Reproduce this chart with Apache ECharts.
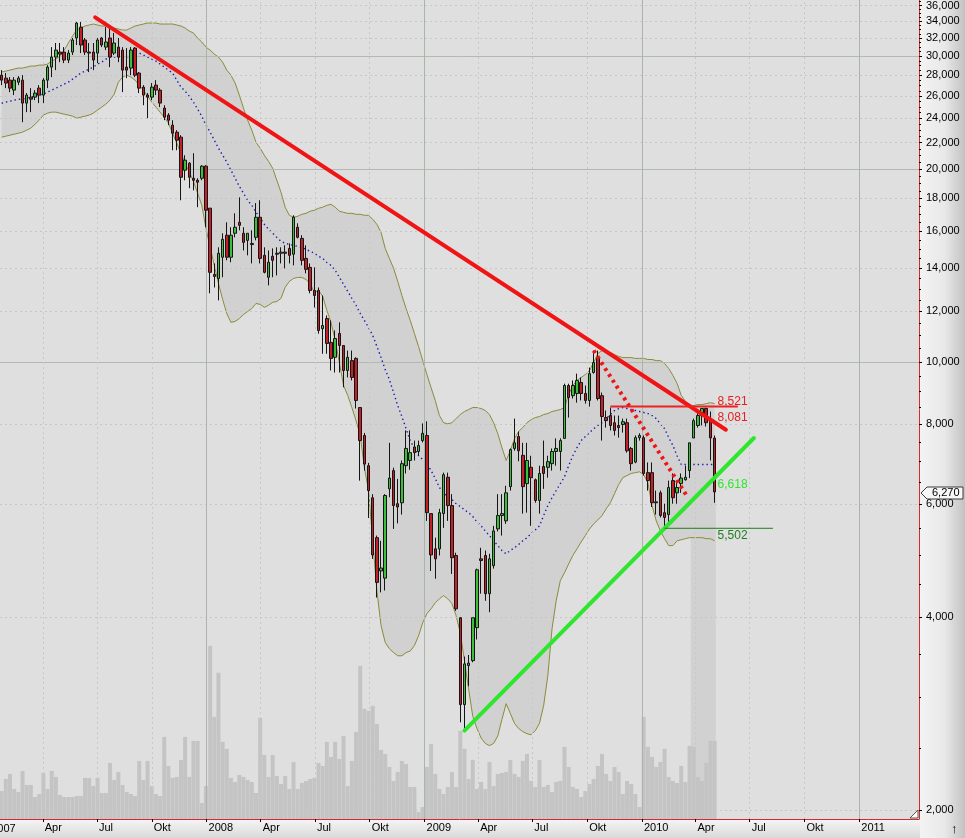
<!DOCTYPE html>
<html>
<head>
<meta charset="utf-8">
<script src="https://cdn.jsdelivr.net/npm/echarts@6.0.0/dist/echarts.min.js"></script>
<style>
html,body{margin:0;padding:0;background:#ffffff;overflow:hidden;}
#chart{width:965px;height:838px;}
</style>
</head>
<body>
<div id="chart"></div>
<script>
// ---------------- DATA (weekly bars) ----------------
const firstWeek = '2007-01-22';

const open = [28030,27730,27530,26560,27330,27530,25350,25900,25900,26750,
26090,27530,28850,29910,30450,30450,29590,30450,32030,33310,
31800,30450,30450,30340,32030,31000,32030,30340,31000,30670,
28850,28750,30890,28240,26850,26090,25900,27040,26560,24900,
24280,23420,22830,22430,19920,20430,19350,19210,19350,20210,
17380,13700,13500,14570,15770,14570,15880,16520,15880,15480,
15310,15650,16820,14670,13560,14620,14780,14780,14840,15040,
14730,16230,15590,14510,14050,12930,12930,11270,11690,10730,
10170,11080,10610,9700,10050,10130,8490,7680,6890,6140,
5320,4720,4600,6340,6770,6010,6030,6890,7020,7370,
7250,7540,7680,5800,5110,5110,5800,6610,5970,4990,
3990,2920,3360,3420,3850,4930,4990,4350,4810,5490,
5760,5650,6390,7330,7650,7150,6460,6850,6550,6080,
6870,6850,6940,7250,7250,7600,9190,8860,8930,9290,
8930,8710,9630,10170,8860,8190,8250,8040,7960,7990,
8040,7330,6980,7620,7620,6720,6720,6050,6250,5820,
5780,6530,6250,6460,6550,6770,7610,7960,8250,8460,
8160,7610];

const close = [27530,27240,26750,27530,27730,25350,26090,25710,26280,26090,
27530,28850,29910,30670,30230,29590,30340,31800,33800,31230,
30450,30340,29590,31800,31230,31570,29910,31460,29910,28540,
28540,30670,28030,26750,26090,25900,26850,26560,25350,24100,
23840,22750,22190,19420,20650,19420,19210,19080,20210,17250,
13800,13600,14780,15540,14570,15770,16230,16340,15370,15880,
15250,16820,14510,13800,14310,14410,14730,14840,14780,14670,
16820,15650,14410,13950,12930,12700,11200,11400,10690,10130,
10880,10610,9700,10170,9460,8710,7540,6930,6300,5000,
4530,4770,6190,6590,5970,5940,6940,7330,7220,7220,
7410,7740,5820,5000,4930,5820,6670,5970,4950,4120,
2920,3380,3390,3990,4740,4900,4350,4930,5450,5760,
5800,6250,7300,7480,7270,6390,7020,6600,6080,6700,
6700,6990,7250,7330,7540,9190,8800,9190,9360,8930,
8710,9590,9980,8770,8220,8100,7960,7820,7900,8070,
7270,6940,7620,7680,6700,6530,6030,6030,5760,5720,
6370,6140,6370,6590,6610,7480,8100,8250,8460,8040,
7610,6270];

const low = [27040,26750,26370,26090,27040,23670,24540,24540,25620,25350,
25350,26750,27830,28540,29370,29270,29270,30130,31230,30340,
30130,28340,28540,29270,31000,30670,28850,30130,29370,26370,
27730,28030,27830,26280,25160,24010,25620,26090,24990,23840,
23420,21400,21400,17880,19210,18670,18530,17440,19210,16230,
12800,13070,12480,13560,14410,14310,15650,16050,14930,14670,
14250,15480,14250,13750,13170,13560,13650,14250,14000,14250,
14150,15590,14150,13750,12800,12160,11070,10300,10300,9700,
9630,9630,9130,9460,9360,8460,6530,6770,5710,4930,
4290,4370,4400,6150,5490,5600,5780,6700,6790,7020,
7140,7490,5650,4720,4590,4990,5510,5650,4670,4090,
2740,2660,3120,3400,3690,4350,4240,4070,4760,5440,
5360,5590,6300,7270,7000,5800,5820,5550,6030,5800,
6340,6600,6770,6890,6770,7600,8190,8770,8640,8710,
8610,8520,9590,8710,7540,7900,7820,7680,7620,7760,
7220,6770,6950,7540,6650,6300,5940,5780,5720,5510,
5610,6010,6010,6250,6530,6590,7610,7900,7960,7930,
7020,6030];

const high = [28540,28240,27830,27830,27930,28030,26280,26750,26560,27040,
27730,29060,31000,31460,31460,31000,30670,32030,33920,33920,
32030,31460,31460,32030,32140,33310,33200,32610,32030,31000,
30890,31000,31000,28340,27040,26280,27240,27530,26750,25160,
24450,23840,23000,22590,21020,20500,21170,19350,20280,20280,
17380,14250,15100,15880,16520,16230,17060,18070,16230,15880,
16050,17700,17880,15100,14930,15040,15100,15100,15210,15310,
16940,16460,15770,15210,14250,14050,13070,12700,11820,11610,
11200,11530,10610,10420,10420,10170,8490,7750,6960,6220,
5360,5260,6220,7480,6840,6570,7020,7820,7820,7540,
7540,8020,8080,5800,5320,5900,6720,6720,6220,5040,
4000,3470,3490,3990,4760,5130,5080,5020,5550,6220,
6220,6410,7330,8160,7790,7480,7480,7140,6580,6890,
7540,7140,7330,7600,7600,9250,9250,9360,9590,9460,
9190,9800,10420,10420,8960,8400,8490,8250,8250,8160,
8160,7370,7680,7740,7680,6970,6970,6300,6300,6010,
6530,6700,6530,6700,6890,7480,8160,8400,8460,8490,
8370,7680];

const volume = [28,40,45,30,27,48,34,34,22,25,
46,30,48,42,24,22,22,22,23,23,
41,41,33,41,26,26,56,39,47,34,
27,25,23,58,39,58,33,25,23,82,
53,41,42,59,82,42,78,78,16,33,
173,102,146,77,70,41,37,44,42,39,
37,26,101,64,42,64,43,35,43,30,
57,30,36,38,40,41,56,53,77,62,
77,60,83,33,58,87,153,110,108,113,
95,69,65,52,38,47,58,55,32,32,
7,12,52,75,45,30,25,32,47,32,
88,70,40,59,30,37,30,57,33,45,
46,47,59,45,42,58,65,38,32,59,
32,34,27,37,38,72,52,32,30,22,
28,35,40,53,65,45,38,52,47,25,
38,35,25,12,102,72,62,52,57,70,
42,38,36,53,37,73,72,42,38,56,
78,78];

const bbUpper = [28340,28440,28540,28650,28750,28750,28850,28960,28960,29060,
29060,29170,29480,29690,30020,30670,31460,32260,32960,33200,
33440,33560,33680,33560,33440,33440,33320,33200,33080,32960,
32960,33200,33440,33560,33680,33800,33800,33800,33680,33680,
33680,33680,33560,33440,33200,32840,32610,32030,31570,31000,
30670,30230,29910,29370,28540,28030,27240,26090,24900,23840,
23000,22030,21560,21020,20570,20060,19210,18400,17440,16940,
16820,16880,17000,17060,17190,17250,17370,17440,17560,17620,
17440,17190,17120,17060,17060,17000,17000,16940,16940,16700,
16400,15930,15040,14510,14000,13360,12700,12120,11610,11080,
10570,10050,9560,9120,8710,8250,8040,8010,8040,8160,
8280,8370,8430,8490,8490,8460,8400,8280,8040,7730,
7350,7020,7270,7590,7790,7900,8040,8130,8190,8220,
8280,8310,8370,8400,8430,8490,8900,9190,9360,9460,
9560,9700,9980,10310,10420,10380,10350,10270,10200,10160,
10160,10160,10130,10130,10130,10090,10090,10050,10050,9950,
9770,9530,9260,8870,8680,8550,8550,8580,8580,8610,
8640,8610];

const bbMid = [25340,25440,25530,25620,25710,25710,25810,25900,25990,26090,
26180,26370,26560,26750,26950,27140,27330,27630,27930,28240,
28440,28650,28850,29170,29370,29690,29910,29910,29910,29910,
29910,30130,30230,30340,30130,29910,29690,29480,29170,28850,
28540,28240,27530,26850,26460,25990,25440,24810,24190,23420,
22840,22190,21560,21020,20500,19920,19350,18800,18340,17880,
17560,17130,16760,16400,16110,15880,15650,15430,15320,15260,
15210,15150,15100,14990,14880,14780,14620,14510,14300,14150,
13900,13560,13220,12890,12570,12260,11910,11610,11320,11000,
10580,10160,9730,9390,8960,8550,8220,7870,7540,7330,
7140,7040,6940,6770,6580,6370,6250,6170,6100,6010,
5950,5880,5820,5740,5630,5550,5450,5360,5260,5170,
5080,5020,5080,5130,5190,5260,5320,5400,5470,5550,
5760,5970,6140,6300,6460,6620,6890,7140,7350,7540,
7650,7760,7870,7960,8040,8160,8280,8400,8460,8490,
8460,8430,8400,8370,8340,8310,8250,8160,8010,7870,
7620,7410,7140,6920,6920,6920,6920,6920,6920,6920,
6920,6920];

const bbLower = [22430,22510,22590,22670,22750,22840,23000,23170,23500,23840,
24280,24450,24540,24540,24450,24360,24280,24190,24010,24100,
24190,24280,24450,24720,24990,25260,25620,26180,27330,27830,
28030,27830,27530,27040,26560,25990,25440,24990,24540,24100,
23590,22750,21950,21170,20430,19780,19140,18340,17560,16170,
15100,14150,13260,12520,11900,11530,11570,11690,11860,11990,
12120,12340,12300,12170,12260,12390,12430,12570,13080,13360,
13500,13550,13550,13450,13260,12840,12930,12660,12040,11530,
10800,9980,9190,8870,8490,8100,7680,6840,6300,5260,
4400,3880,3650,3570,3520,3480,3480,3520,3540,3610,
3740,3920,4050,4120,4210,4270,4320,4270,4200,4020,
3780,3420,3090,2800,2680,2590,2540,2520,2540,2610,
2770,2930,2830,2730,2680,2650,2630,2620,2660,2730,
2910,3240,3830,4240,4560,4690,4840,4990,5110,5240,
5360,5490,5590,5670,5760,5900,6030,6230,6440,6600,
6650,6700,6720,6740,6670,6480,5970,5650,5450,5300,
5170,5170,5260,5280,5300,5320,5320,5320,5320,5300,
5300,5260];

// drawn trend / level lines: [date, value]
const resistanceLine = [['2007-06-28', 34500], ['2010-05-22', 7840]];
const shortDownLine  = [['2009-10-12', 10420], ['2010-03-17', 6190]];
const supportLine    = [['2009-03-09', 2660],  ['2010-07-08', 7610]];
const highLevel      = [['2009-11-09', 8521],  ['2010-06-11', 8521]];
const lowLevel       = [['2010-02-08', 5502],  ['2010-08-09', 5502]];
// shaded block under the most recent bars: [start date, end date, top value]
const recentBlock    = ['2010-03-24', '2010-05-05', 6920];

// value labels at the last bar
const levelLabelTexts  = ['8,521', '8,081', '6,618', '5,502'];
const levelLabelValues = [8521, 8081, 6618, 5502];
const lastPrice = 6270;

// axis ticks
const xTickDates = ['2007-01-01','2007-04-01','2007-07-01','2007-10-01',
  '2008-01-01','2008-04-01','2008-07-01','2008-10-01',
  '2009-01-01','2009-04-01','2009-07-01','2009-10-01',
  '2010-01-01','2010-04-01','2010-07-01','2010-10-01','2011-01-01'];
const monthNames = ['Jan','Feb','Mar','Apr','Mai','Jun','Jul','Aug','Sep','Okt','Nov','Dez'];
const yTickValues = [2000,4000,6000,8000,10000,12000,14000,16000,18000,20000,
  22000,24000,26000,28000,30000,32000,34000,36000];
const ySolidGrid = [10000, 20000, 30000];

// ---------------- BUILD ----------------
function utc(s){ const p = s.split('-'); return Date.UTC(+p[0], +p[1]-1, +p[2]); }
const WEEK_MS = 7*24*3600*1000;
const dates = open.map((_, i) => utc(firstWeek) + i*WEEK_MS);
const xMin = Date.UTC(2007,0,19,5), xMax = Date.UTC(2011,3,11,5);
const yMin = 1936, yMax = 36716;
const FONT = '"Liberation Sans", Arial, sans-serif';
const BAND_FILL = '#d1d1d1';

const xTickTimes = xTickDates.map(utc).filter(t => t > xMin && t < xMax);
const yMinorTicks = [];
for (let v = 2500; v <= 36500; v += 500) if (yTickValues.indexOf(v) < 0) yMinorTicks.push(v);

function fmt(v){ return String(Math.round(v)).replace(/\B(?=(\d{3})+(?!\d))/g, ','); }
const toXY = line => line.map(p => [utc(p[0]), p[1]]);

const gridLines = [];
yTickValues.forEach(v => {
  const solid = ySolidGrid.indexOf(v) >= 0;
  gridLines.push({yAxis: v, lineStyle: {color: solid ? '#b2b9b2' : '#c6c6c6', width: 1, type: solid ? 'solid' : [2, 3]}});
});
xTickTimes.forEach(t => {
  const isYear = new Date(t).getUTCMonth() === 0;
  gridLines.push({xAxis: t, lineStyle: {color: isYear ? '#aab5aa' : '#c8c8c8', width: 1, type: isYear ? 'solid' : [2, 3]}});
});

const chart = echarts.init(document.getElementById('chart'), null, {renderer: 'canvas'});

const option = {
  animation: false,
  backgroundColor: '#ffffff',
  grid: {left: 0, top: 0, width: 919, height: 819, show: true, backgroundColor: '#dfdfdf',
         borderWidth: 0, containLabel: false, outerBoundsMode: 'none'},
  xAxis: {
    type: 'value', min: xMin, max: xMax, scale: true,
    axisLine: {show: true, onZero: false, lineStyle: {color: '#d42a2a', width: 1}},
    axisTick: {show: true, customValues: xTickTimes, length: 3, lineStyle: {color: '#000'}},
    axisLabel: {
      customValues: xTickTimes, align: 'left', margin: 3, padding: [0, 0, 0, 2],
      color: '#000', fontFamily: FONT, fontSize: 11,
      formatter: v => { const d = new Date(v); const m = d.getUTCMonth(); return m === 0 ? String(d.getUTCFullYear()) : monthNames[m]; }
    },
    splitLine: {show: false}
  },
  yAxis: [
    {
      type: 'log', logBase: 10, min: yMin, max: yMax, position: 'right',
      axisLine: {show: true, onZero: false, lineStyle: {color: '#d42a2a', width: 1}},
      axisTick: {show: true, customValues: yTickValues, length: 3, lineStyle: {color: '#000'}},
      axisLabel: {customValues: yTickValues, formatter: fmt, margin: 7, color: '#000', fontFamily: FONT, fontSize: 11},
      splitLine: {show: false}
    },
    {type: 'value', min: 0, max: 818, show: false},
    {
      type: 'log', logBase: 10, min: yMin, max: yMax, position: 'right',
      axisLine: {show: false},
      axisTick: {show: true, customValues: yMinorTicks, length: 2, lineStyle: {color: '#000'}},
      axisLabel: {show: false},
      splitLine: {show: false}
    }
  ],
  series: [
    {
      name: 'bbFill', type: 'custom', z: 1, silent: true, clip: true,
      data: [[dates[0], bbMid[0]]],
      renderItem: (params, api) => {
        const pts = [];
        for (let i = 0; i < dates.length; i++) pts.push(api.coord([dates[i], bbUpper[i]]));
        for (let i = dates.length - 1; i >= 0; i--) pts.push(api.coord([dates[i], bbLower[i]]));
        const a = api.coord([utc(recentBlock[0]), recentBlock[2]]);
        const b = api.coord([utc(recentBlock[1]), yMin]);
        return {type: 'group', children: [
          {type: 'polygon', shape: {points: pts}, style: {fill: BAND_FILL}},
          {type: 'rect', shape: {x: a[0], y: a[1], width: b[0] - a[0], height: b[1] - a[1]}, style: {fill: BAND_FILL}}
        ]};
      }
    },
    {
      name: 'Volume', type: 'bar', xAxisIndex: 0, yAxisIndex: 1, z: 2,
      data: dates.map((d, i) => [d, volume[i]]),
      barWidth: 4, itemStyle: {color: '#c4c4c4'}, silent: true
    },
    {
      name: 'grid', type: 'line', z: 3, symbol: 'none', silent: true,
      data: [[dates[0], bbMid[0]]], lineStyle: {opacity: 0},
      markLine: {silent: true, symbol: ['none', 'none'], label: {show: false},
                 emphasis: {disabled: true}, animation: false, data: gridLines}
    },
    {
      name: 'Upper', type: 'line', z: 4, symbol: 'none', silent: true,
      data: dates.map((d, i) => [d, bbUpper[i]]),
      lineStyle: {color: '#8b8b3a', width: 1}
    },
    {
      name: 'Lower', type: 'line', z: 4, symbol: 'none', silent: true,
      data: dates.map((d, i) => [d, bbLower[i]]),
      lineStyle: {color: '#8b8b3a', width: 1}
    },
    {
      name: 'Mid', type: 'line', z: 4, symbol: 'none', silent: true,
      data: dates.map((d, i) => [d, bbMid[i]]),
      lineStyle: {color: '#1a1ab4', width: 1.4, type: [1.4, 3]}
    },
    {
      name: 'Price', type: 'candlestick', z: 5, barWidth: 3,
      data: dates.map((d, i) => [d, open[i], close[i], low[i], high[i]]),
      itemStyle: {color: '#3cc03c', color0: '#c42028', borderColor: '#151515', borderColor0: '#151515', borderWidth: 1}
    },
    {
      name: 'Resistance', type: 'line', z: 6, symbol: 'none', silent: true,
      data: toXY(resistanceLine), lineStyle: {color: '#f01414', width: 4, cap: 'round'}
    },
    {
      name: 'ShortDown', type: 'line', z: 6, symbol: 'none', silent: true,
      data: toXY(shortDownLine), lineStyle: {color: '#f01414', width: 4, type: [3, 4], cap: 'butt'}
    },
    {
      name: 'Support', type: 'line', z: 6, symbol: 'none', silent: true,
      data: toXY(supportLine), lineStyle: {color: '#2ee62e', width: 4, cap: 'round'}
    },
    {
      name: 'HighLevel', type: 'line', z: 6, symbol: 'none', silent: true,
      data: toXY(highLevel), lineStyle: {color: '#ee2222', width: 2}
    },
    {
      name: 'LowLevel', type: 'line', z: 6, symbol: 'none', silent: true,
      data: toXY(lowLevel), lineStyle: {color: '#1f7f1f', width: 1}
    }
  ]
};
chart.setOption(option);

// ---------- overlay graphics positioned through the axes ----------
const px = (t, v) => chart.convertToPixel({xAxisIndex: 0, yAxisIndex: 0}, [t, v]);
const lastT = dates[dates.length - 1];
const labelColors = ['#e62020', '#e62020', '#2ee62e', '#1f7f1f'];
const labelOffsets = [-5, -4, 8, 7];
const els = [];

els.push({type: 'rect', z: -10, silent: true, shape: {x: 920, y: 0, width: 45, height: 838},
  style: {fill: new echarts.graphic.LinearGradient(0, 0, 1, 0, [
    {offset: 0, color: '#f3f3f3'}, {offset: 0.55, color: '#e8e8e8'}, {offset: 1, color: '#c2c2c2'}])}});
els.push({type: 'rect', z: -10, silent: true, shape: {x: 0, y: 820, width: 920, height: 18},
  style: {fill: new echarts.graphic.LinearGradient(0, 0, 0, 1, [
    {offset: 0, color: '#f4f4f4'}, {offset: 1, color: '#d9d9d9'}])}});

levelLabelTexts.forEach((txt, k) => {
  const p = px(lastT, levelLabelValues[k]);
  els.push({type: 'text', z: 20, silent: true, x: p[0] + 3, y: p[1] + labelOffsets[k],
    style: {text: txt, fill: labelColors[k], font: '12px ' + FONT, textAlign: 'left', textVerticalAlign: 'middle', align: 'left', verticalAlign: 'middle'}});
});

// last price tag on the axis
const lp = px(lastT, lastPrice);
const ty = Math.round(lp[1]) + 1;
els.push({type: 'polygon', z: 20, silent: true,
  shape: {points: [[921, ty], [927, ty - 6], [963, ty - 6], [963, ty + 6], [927, ty + 6]]},
  style: {fill: '#f7f7f7', stroke: '#3a3a3a', lineWidth: 1}});
els.push({type: 'text', z: 21, silent: true, x: 932, y: ty,
  style: {text: fmt(lastPrice), fill: '#000', font: '11px ' + FONT, textAlign: 'left', textVerticalAlign: 'middle', align: 'left', verticalAlign: 'middle'}});

// first (cut off) year label
const y0 = px(utc('2007-01-01'), 10000);
els.push({type: 'text', z: 20, silent: true, x: y0[0] + 2, y: 829,
  style: {text: '2007', fill: '#000', font: '11px ' + FONT, textAlign: 'left', textVerticalAlign: 'middle', align: 'left', verticalAlign: 'middle'}});

// corner marks
els.push({type: 'polygon', z: 20, silent: true, shape: {points: [[910, 818], [918, 810], [918, 818]]},
  style: {fill: '#ffffff', stroke: '#555', lineWidth: 1}});
els.push({type: 'text', z: 20, silent: true, x: 951, y: 829,
  style: {text: '↑', fill: '#000', font: '13px ' + FONT, textAlign: 'left', textVerticalAlign: 'middle', align: 'left', verticalAlign: 'middle'}});

chart.setOption({graphic: {elements: els}});
</script>
</body>
</html>
